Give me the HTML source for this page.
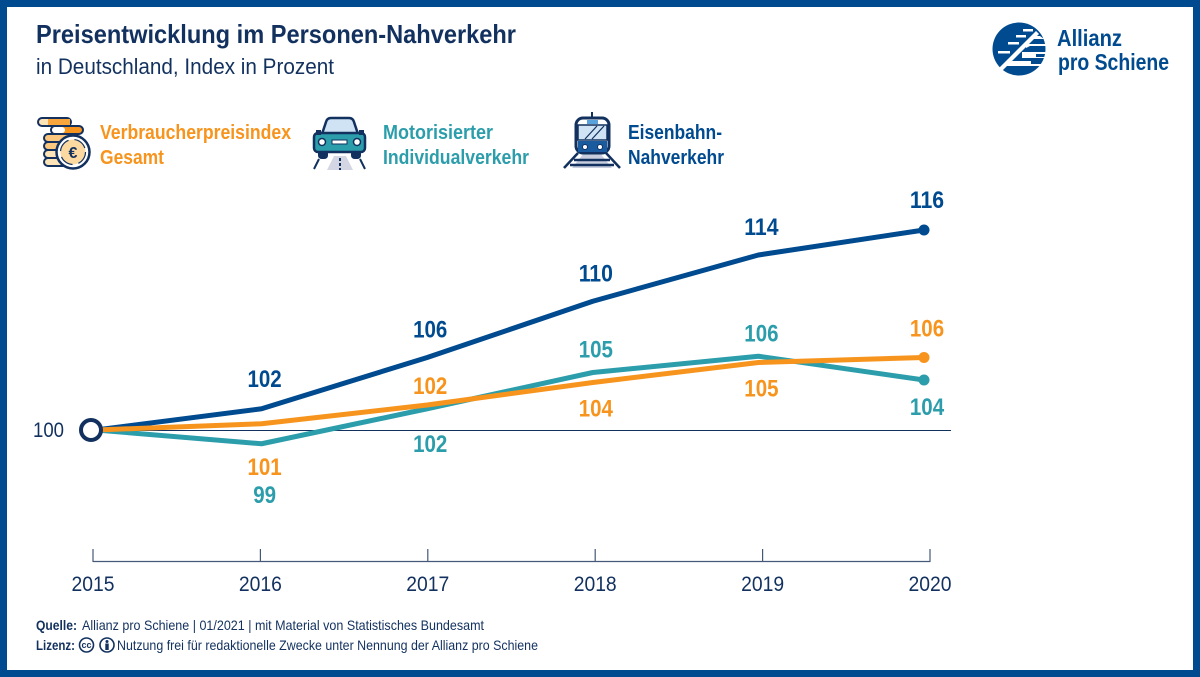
<!DOCTYPE html>
<html lang="de">
<head>
<meta charset="utf-8">
<title>Preisentwicklung im Personen-Nahverkehr</title>
<style>
html,body{margin:0;padding:0;background:#fff;width:1200px;height:677px;overflow:hidden}
svg{display:block}
text{font-family:"Liberation Sans Narrow","Liberation Sans",Arial,sans-serif}
</style>
</head>
<body>
<svg id="page" xmlns="http://www.w3.org/2000/svg" width="1200" height="677" viewBox="0 0 1200 677" style="font-family:'Liberation Sans',sans-serif">
<rect x="3.5" y="3.5" width="1193" height="670" fill="#fff" stroke="#004a8f" stroke-width="7"/>

<text x="36" y="43" font-size="26" font-weight="700" fill="#12315f" textLength="480" lengthAdjust="spacingAndGlyphs">Preisentwicklung im Personen-Nahverkehr</text>
<text x="36" y="74" font-size="22" fill="#12315f" textLength="298" lengthAdjust="spacingAndGlyphs">in Deutschland, Index in Prozent</text>

<g>
  <circle cx="1019" cy="49" r="26.5" fill="#004a8f"/>
  <g fill="#fff">
    <path d="M999 68 L1036 31 L1039 34 L1002 71Z"/>
    <rect x="1023" y="29" width="10" height="2.5"/>
    <rect x="1016" y="35" width="10" height="2.5"/>
    <rect x="1008" y="42" width="11" height="2.5"/>
    <rect x="998" y="51" width="12" height="2.5"/>
    <path d="M1032 36 H1040 L1044 39 H1030Z"/>
    <path d="M1026 44 H1047 V46 H1030 L1026 48Z"/>
    <path d="M1022 52 H1047 V54 H1036 V57 H1047 V58 H1022Z"/>
    <path d="M1012 61 H1031 V64 H1042 L1041 66 H1006Z"/>
  </g>
  <text x="1057" y="46" font-size="23" font-weight="700" fill="#004a8f" textLength="65" lengthAdjust="spacingAndGlyphs">Allianz</text>
  <text x="1058" y="70" font-size="23" font-weight="700" fill="#004a8f" textLength="111" lengthAdjust="spacingAndGlyphs">pro Schiene</text>
</g>

<g>
  <g stroke="#12315f" stroke-width="2">
    <rect x="38" y="118" width="33" height="8" rx="4" fill="#fde3b8"/>
    <rect x="48" y="119" width="22" height="6" fill="#f9a63c" stroke="none"/>
    <rect x="51" y="126" width="32" height="8" rx="4" fill="#f7941d"/>
    <rect x="52" y="127" width="13" height="6" rx="3" fill="#fff" stroke="none"/>
    <rect x="44" y="134" width="28" height="8" rx="4" fill="#fbc77f"/>
    <rect x="44" y="142" width="28" height="8" rx="4" fill="#fbc77f"/>
    <rect x="44" y="150" width="28" height="8" rx="4" fill="#fde3b8"/>
    <rect x="44" y="158" width="28" height="8" rx="4" fill="#fde3b8"/>
    <circle cx="73" cy="152" r="16.5" fill="#fff" stroke-width="2.5"/>
    <circle cx="73" cy="152" r="12.5" fill="#fcd9a0" stroke="#12315f" stroke-width="1.2" stroke-dasharray="14 6"/>
  </g>
  <text x="73" y="158" text-anchor="middle" font-size="16" font-weight="700" fill="#12315f">€</text>
  <text x="100" y="139" font-size="20" font-weight="700" fill="#f7941d" textLength="191" lengthAdjust="spacingAndGlyphs">Verbraucherpreisindex</text>
  <text x="100" y="164" font-size="20" font-weight="700" fill="#f7941d" textLength="64" lengthAdjust="spacingAndGlyphs">Gesamt</text>
</g>

<g>
  <g>
    <path d="M327 170 L334 156 H346 L353 170Z" fill="#d5d6e4"/>
    <path d="M314 169 L319 159 M365 169 L360 159" stroke="#12315f" stroke-width="2" fill="none"/>
    <path d="M340 158 V170" stroke="#12315f" stroke-width="2" stroke-dasharray="3 2"/>
    <rect x="318" y="150" width="10" height="9" rx="3.5" fill="#12315f"/>
    <rect x="351" y="150" width="10" height="9" rx="3.5" fill="#12315f"/>
    <path d="M322 134 L326 122 Q327 118 331 118 H349 Q353 118 354 122 L358 134Z" fill="#cfe3f5" stroke="#12315f" stroke-width="2.5"/>
    <rect x="314" y="133" width="51" height="19" rx="4" fill="#2b9dab" stroke="#12315f" stroke-width="2.5"/>
    <rect x="316" y="130" width="5" height="5" fill="#12315f"/>
    <rect x="359" y="130" width="5" height="5" fill="#12315f"/>
    <circle cx="322" cy="142" r="3.5" fill="#fff" stroke="#12315f" stroke-width="1.5"/>
    <circle cx="357" cy="142" r="3.5" fill="#fff" stroke="#12315f" stroke-width="1.5"/>
    <rect x="332" y="140" width="15" height="4" fill="#fff" stroke="#12315f" stroke-width="1"/>
  </g>
  <text x="383" y="139" font-size="20" font-weight="700" fill="#2b9dab" textLength="110" lengthAdjust="spacingAndGlyphs">Motorisierter</text>
  <text x="383" y="164" font-size="20" font-weight="700" fill="#2b9dab" textLength="146" lengthAdjust="spacingAndGlyphs">Individualverkehr</text>
</g>

<g>
  <g>
    <path d="M592 112 V117" stroke="#12315f" stroke-width="2"/>
    <path d="M572 168 L584 153 H600 L612 168Z" fill="#c8cedd"/>
    <path d="M564 168 L578 153 M620 168 L606 153" stroke="#12315f" stroke-width="2.5" fill="none"/>
    <path d="M574 160 H610 M570 165 H614" stroke="#12315f" stroke-width="2.5"/>
    <rect x="576" y="118" width="33" height="35" rx="7" fill="#fff" stroke="#12315f" stroke-width="3"/>
    <rect x="587" y="120" width="11" height="4" fill="#5aa2dc"/>
    <rect x="578" y="125" width="29" height="15" fill="#cfe3f5" stroke="#12315f" stroke-width="1.5"/>
    <path d="M585 139 L597 126 M592 139 L604 126" stroke="#12315f" stroke-width="1.2"/>
    <rect x="578" y="141" width="29" height="11" fill="#1a5a9e"/>
    <circle cx="585" cy="147" r="2.5" fill="#fff" stroke="#12315f" stroke-width="1"/>
    <circle cx="600" cy="147" r="2.5" fill="#fff" stroke="#12315f" stroke-width="1"/>
  </g>
  <text x="628" y="139" font-size="20" font-weight="700" fill="#004a8f" textLength="94" lengthAdjust="spacingAndGlyphs">Eisenbahn-</text>
  <text x="628" y="164" font-size="20" font-weight="700" fill="#004a8f" textLength="96" lengthAdjust="spacingAndGlyphs">Nahverkehr</text>
</g>

<g id="plot"></g>

<g>
  <text x="36" y="630" font-size="14" font-weight="700" fill="#12315f" textLength="41" lengthAdjust="spacingAndGlyphs">Quelle:</text>
  <text x="82" y="630" font-size="14" fill="#12315f" textLength="402" lengthAdjust="spacingAndGlyphs">Allianz pro Schiene | 01/2021 | mit Material von Statistisches Bundesamt</text>
  <text x="36" y="650" font-size="14" font-weight="700" fill="#12315f" textLength="39" lengthAdjust="spacingAndGlyphs">Lizenz:</text>
  <g>
    <circle cx="86.5" cy="645" r="7" fill="#fff" stroke="#12315f" stroke-width="1.6"/>
    <text x="86.5" y="648" text-anchor="middle" font-size="9" font-weight="700" fill="#12315f">cc</text>
  </g>
  <g>
    <circle cx="107" cy="645" r="7" fill="#fff" stroke="#12315f" stroke-width="1.6"/>
    <circle cx="107" cy="641.5" r="1.5" fill="#12315f"/>
    <rect x="105.3" y="643.5" width="3.4" height="6.5" fill="#12315f"/>
  </g>
  <text x="117" y="650" font-size="14" fill="#12315f" textLength="421" lengthAdjust="spacingAndGlyphs">Nutzung frei für redaktionelle Zwecke unter Nennung der Allianz pro Schiene</text>
</g>
</svg>

<script>
const years = [2015, 2016, 2017, 2018, 2019, 2020];
const railValues = [100, 101.7, 105.8, 110.3, 114, 116];
const carValues = [100, 98.9, 101.7, 104.6, 105.9, 104];
const cpiValues = [100, 100.5, 102, 103.8, 105.4, 105.8];
const railLabels = ["", "102", "106", "110", "114", "116"];
const carLabels = ["", "99", "102", "105", "106", "104"];
const cpiLabels = ["", "101", "102", "104", "105", "106"];
const baselineValue = 100;
const baselineLabel = "100";

const SVGNS = "http://www.w3.org/2000/svg";
const plot = document.getElementById("plot");
const NAVY = "#004a8f", TEAL = "#2b9dab", ORANGE = "#f7941d", INK = "#12315f";

function xPoint(i) { return 96 + i * (924 - 96) / (years.length - 1); }
function xTick(i) { return 93 + i * (930 - 93) / (years.length - 1); }
function yScale(v) { return 430 - (v - baselineValue) * 12.5; }

function make(tag, attrs) {
  const el = document.createElementNS(SVGNS, tag);
  for (const k in attrs) el.setAttribute(k, attrs[k]);
  return el;
}

// Zero line
const baseLine = make("line", {x1: 91, x2: 951, y1: yScale(baselineValue) + 0.5, y2: yScale(baselineValue) + 0.5, stroke: "#12315f", "stroke-width": 1});


plot.appendChild(baseLine);

const baseText = make("text", {x: 33, y: 437, "font-size": 21, fill: INK, textLength: 31, lengthAdjust: "spacingAndGlyphs"});
baseText.textContent = baselineLabel;


plot.appendChild(baseText);

// X axis
const axisLine = make("line", {x1: xTick(0), x2: xTick(years.length - 1), y1: 561.5, y2: 561.5, stroke: "#44597a", "stroke-width": 1.2});


plot.appendChild(axisLine);

years.forEach(function (year, i) {
  const tick = make("line", {x1: xTick(i), x2: xTick(i), y1: 549, y2: 562, stroke: "#44597a", "stroke-width": 1.2});
  
  
  plot.appendChild(tick);
  const label = make("text", {x: xTick(i) - 21.5, y: 591, "font-size": 21, fill: INK, textLength: 43, lengthAdjust: "spacingAndGlyphs"});
  label.textContent = String(year);
  
  
  plot.appendChild(label);
});

// Series
function drawSeries(name, values, color) {
  const pts = values.map(function (v, i) { return xPoint(i) + "," + yScale(v); }).join(" ");
  const line = make("polyline", {points: pts, fill: "none", stroke: color, "stroke-width": 5, "stroke-linejoin": "round"});
  
  
  plot.appendChild(line);
  const last = values.length - 1;
  const dot = make("circle", {cx: xPoint(last), cy: yScale(values[last]), r: 5.5, fill: color});
  
  
  plot.appendChild(dot);
}

function drawLabels(name, values, labels, color, offsets) {
  labels.forEach(function (txt, i) {
    if (!txt) return;
    const w = txt.length * 11.4;
    const t = make("text", {x: xPoint(i) + 3 - w / 2, y: yScale(values[i]) + offsets[i], "font-size": 24, "font-weight": 700, fill: color, textLength: w, lengthAdjust: "spacingAndGlyphs"});
    t.textContent = txt;
    
    
    plot.appendChild(t);
  });
}

drawSeries("rail", railValues, NAVY);
drawSeries("car", carValues, TEAL);
drawSeries("cpi", cpiValues, ORANGE);

drawLabels("rail", railValues, railLabels, NAVY, [0, -22, -20, -20, -20, -22]);
drawLabels("car", carValues, carLabels, TEAL, [0, 59, 43, -15, -15, 35]);
drawLabels("cpi", cpiValues, cpiLabels, ORANGE, [0, 51, -11, 34, 34, -21]);

// Start marker
const startMarker = make("circle", {cx: 91, cy: yScale(baselineValue), r: 10, fill: "#fff", stroke: INK, "stroke-width": 4});


plot.appendChild(startMarker);
</script>
</body>
</html>
